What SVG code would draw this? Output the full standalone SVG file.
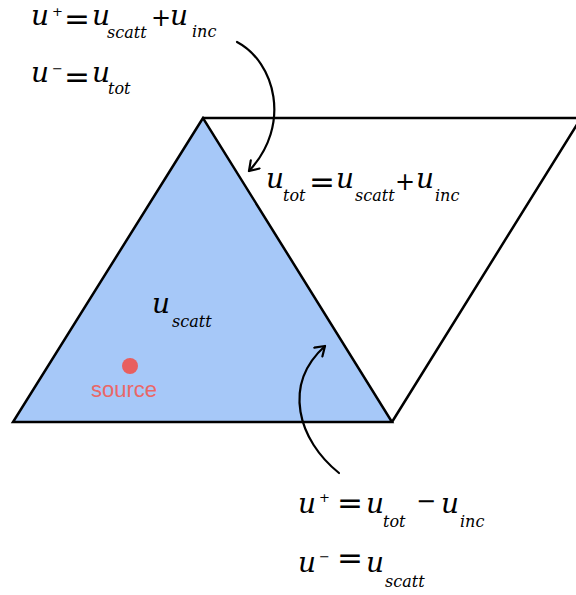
<svg xmlns="http://www.w3.org/2000/svg" width="576" height="595" viewBox="0 0 576 595">
<defs>
<style>
.m{font-family:"DejaVu Serif","Liberation Serif",serif;font-style:italic;font-size:28px;fill:#000}
.s{font-family:"DejaVu Serif","Liberation Serif",serif;font-style:italic;font-size:16px;fill:#000}
.sup{font-family:"DejaVu Sans",sans-serif;font-size:13px;fill:#000}
.eq{font-family:"DejaVu Sans",sans-serif;font-size:31px;fill:#000}
.pl{font-family:"DejaVu Sans",sans-serif;font-size:24px;fill:#000}
.edge{fill:none;stroke:#000;stroke-width:2.5;stroke-linejoin:miter}
.conn{fill:none;stroke:#000;stroke-width:2.2;stroke-linecap:round}
</style>
<marker id="ah" markerWidth="14" markerHeight="14" refX="11" refY="7" orient="auto" markerUnits="userSpaceOnUse">
<path d="M2,1 L11,7 L2,13" fill="none" stroke="#000" stroke-width="2.2" stroke-linecap="round" stroke-linejoin="round"/>
</marker>
</defs>
<g id="parallelogram">
<path class="edge" d="M203,118 L581,118 L392,422"/>
</g>
<g id="triangle">
<path d="M203,118 L13,422 L392,422 Z" fill="#A6C8F8" stroke="#000" stroke-width="2.5"/>
</g>
<g id="source">
<circle cx="130" cy="366" r="8" fill="#E85F5F"/>
<text x="91" y="397" font-family="'Liberation Sans',Arial,sans-serif" font-size="22" fill="#EA6767">source</text>
</g>
<g id="label-inside">
<text class="m" x="152" y="313">u</text>
<text class="s" x="172" y="327">scatt</text>
</g>
<g id="label-top">
<text class="m" x="31" y="25">u</text>
<text class="sup" x="52" y="16">+</text>
<text class="eq" x="64" y="29">=</text>
<text class="m" x="92" y="25">u</text>
<text class="s" x="107" y="38">scatt</text>
<text class="pl" x="151" y="26">+</text>
<text class="m" x="170" y="25">u</text>
<text class="s" x="192" y="37">inc</text>
<text class="m" x="31" y="82">u</text>
<text class="sup" x="52" y="73">−</text>
<text class="eq" x="64" y="87">=</text>
<text class="m" x="92" y="82">u</text>
<text class="s" x="108" y="94">tot</text>
</g>
<g id="label-interface">
<text class="m" x="266" y="188">u</text>
<text class="s" x="283" y="201">tot</text>
<text class="eq" x="309" y="192">=</text>
<text class="m" x="336" y="188">u</text>
<text class="s" x="355" y="201">scatt</text>
<text class="pl" x="395" y="190">+</text>
<text class="m" x="416" y="188">u</text>
<text class="s" x="435" y="201">inc</text>
</g>
<g id="label-bottom">
<text class="m" x="298" y="513">u</text>
<text class="sup" x="319" y="502">+</text>
<text class="eq" x="337" y="513">=</text>
<text class="m" x="366" y="513">u</text>
<text class="s" x="383" y="527">tot</text>
<text class="pl" x="416" y="509">−</text>
<text class="m" x="441" y="513">u</text>
<text class="s" x="460" y="527">inc</text>
<text class="m" x="298" y="572">u</text>
<text class="sup" x="319" y="561">−</text>
<text class="eq" x="337" y="568">=</text>
<text class="m" x="366" y="572">u</text>
<text class="s" x="385" y="587">scatt</text>
</g>
<g id="connectors">
<path class="conn" d="M237,42 C275,62 292,125 249,171" marker-end="url(#ah)"/>
<path class="conn" d="M339,473 C298,440 282,385 325,346" marker-end="url(#ah)"/>
</g>
</svg>
